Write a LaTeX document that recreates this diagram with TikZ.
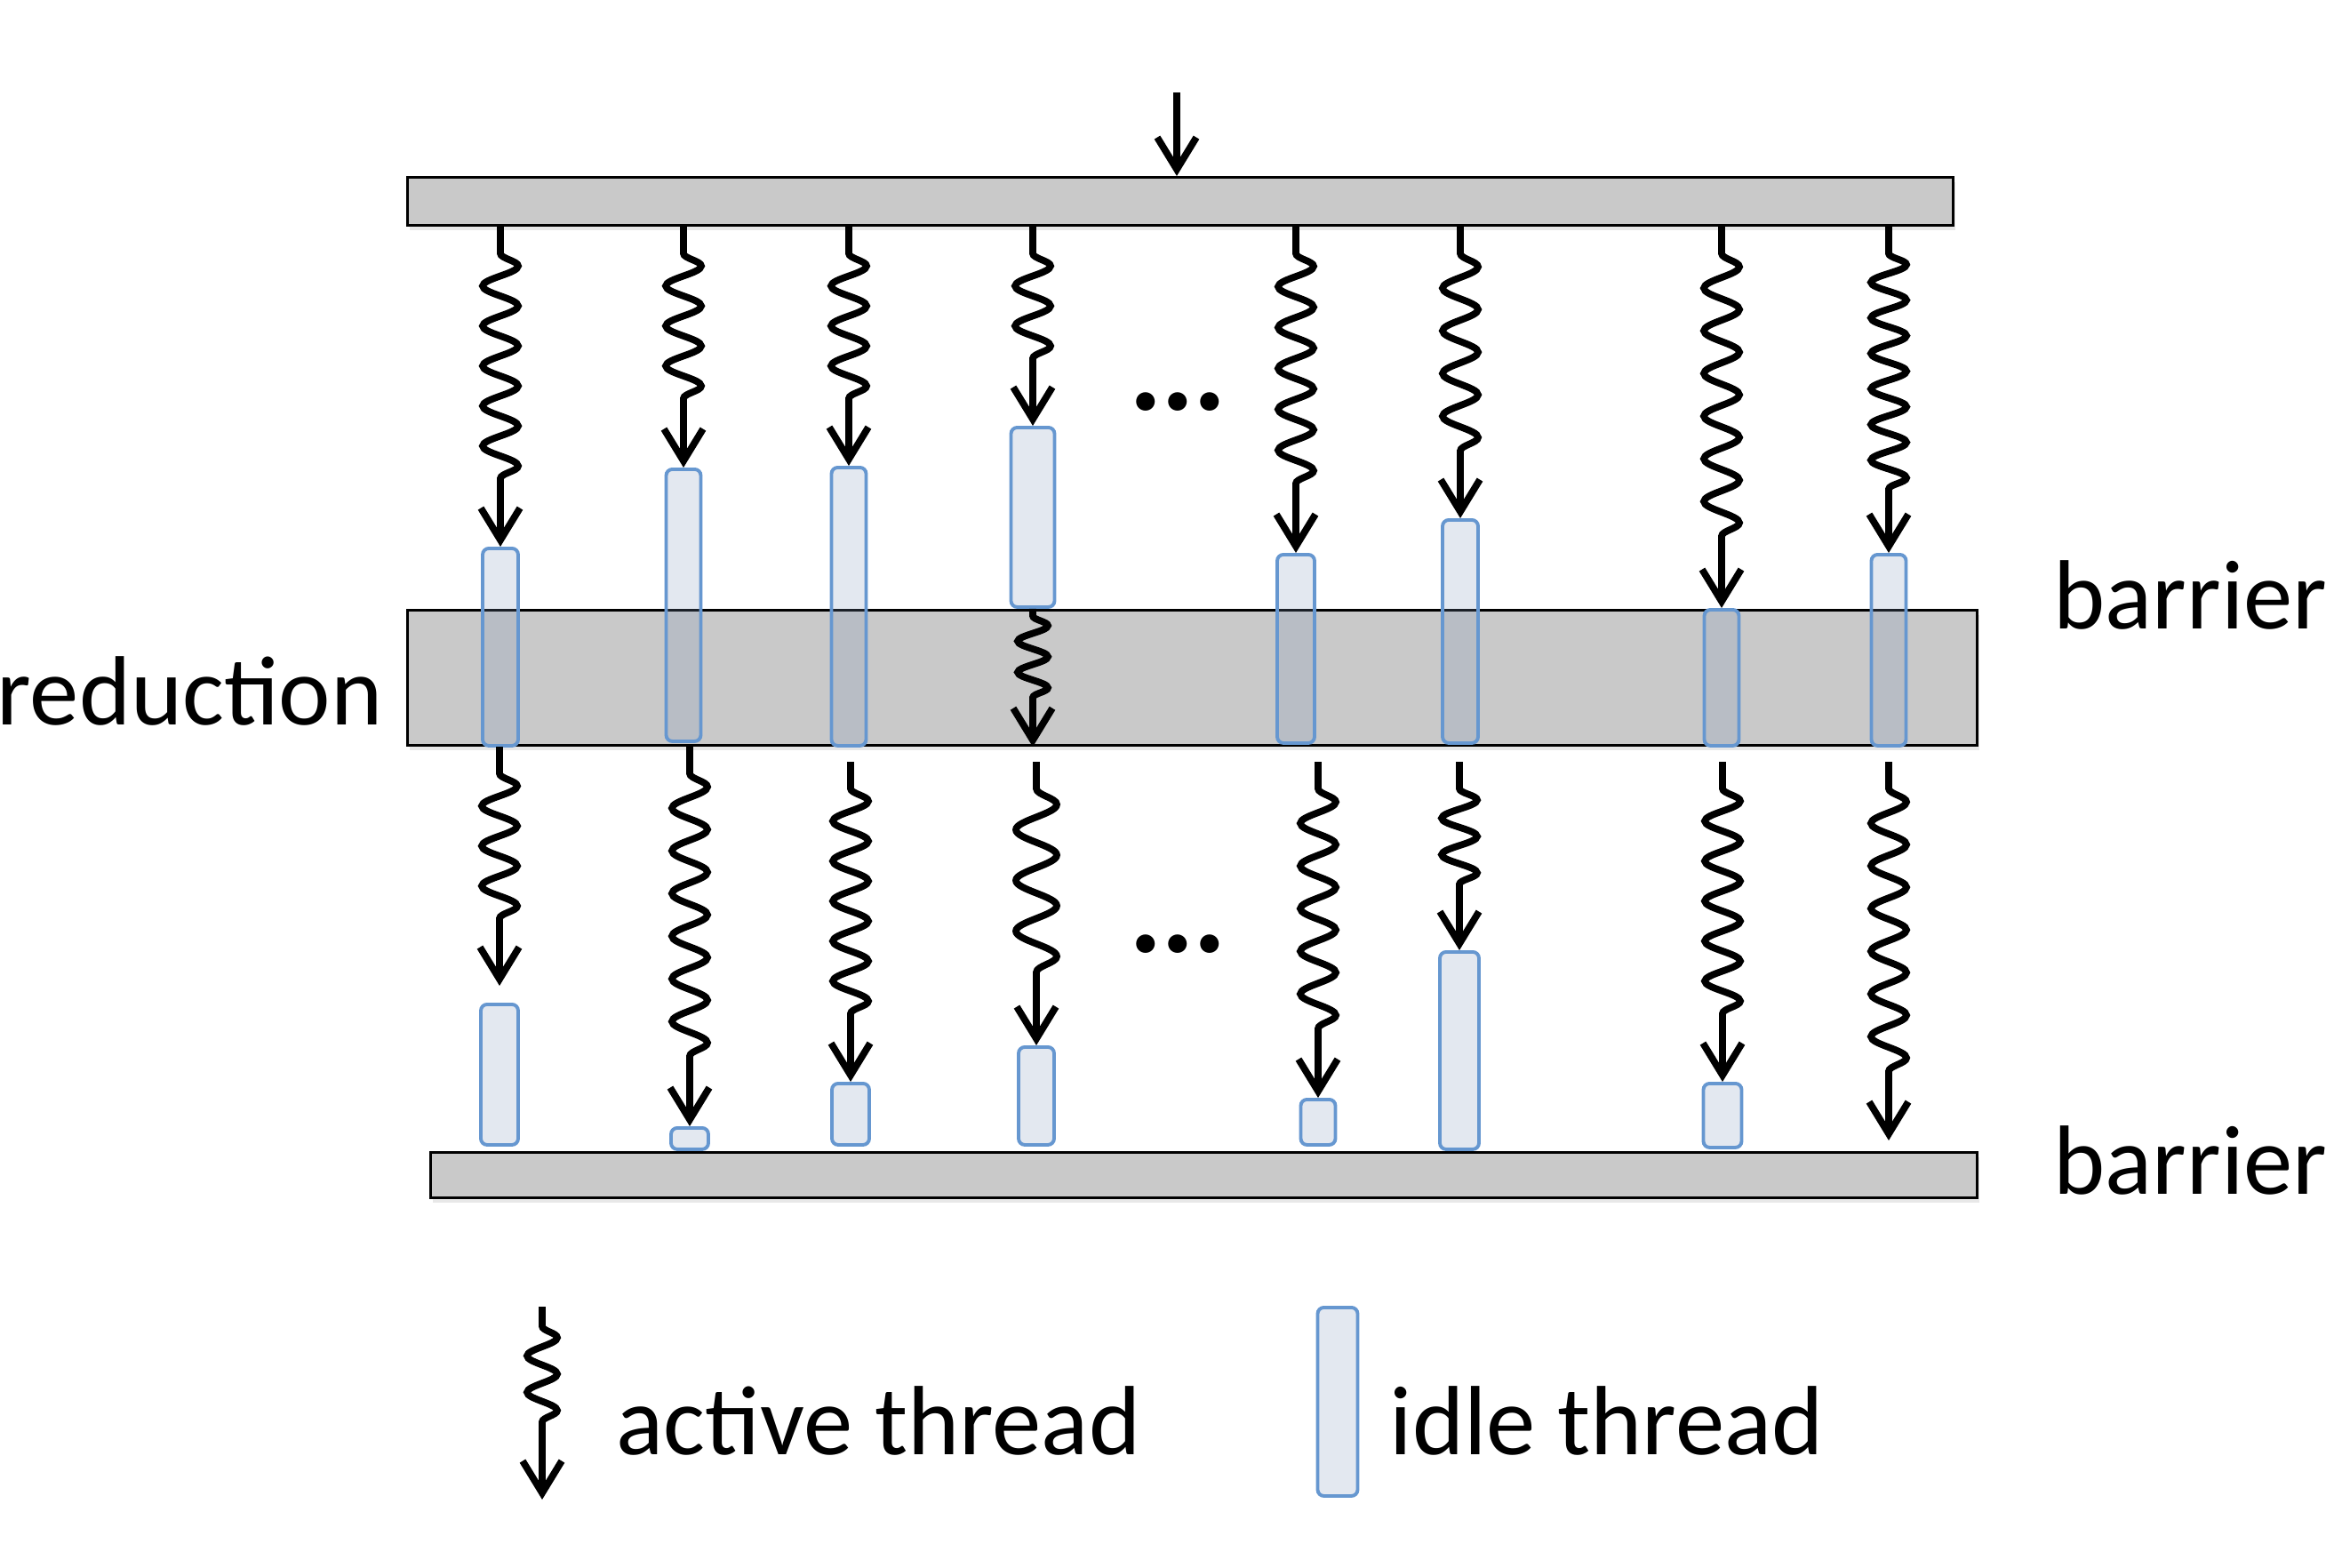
\documentclass[tikz,border=0pt]{standalone}
\usepackage{fontspec}
\setmainfont{Carlito}
\usetikzlibrary{arrows.meta, decorations.pathmorphing, shadows, calc}
\definecolor{barfill}{RGB}{201,201,201}
\definecolor{idleedge}{RGB}{102,151,208}
\definecolor{idlefill}{RGB}{127,150,186}

\tikzset{
  bar/.style={rectangle, draw=black, line width=0.9pt, fill=barfill, inner sep=0pt, anchor=north west,
    drop shadow={shadow xshift=0.02cm, shadow yshift=-0.05cm, opacity=0.18}},
  idle/.style={rectangle, rounded corners=0.07cm, draw=idleedge, line width=1.1pt, fill=idlefill,
    fill opacity=0.22, draw opacity=1, inner sep=0pt, anchor=north},
  thread/.style={line width=2.2pt, -{Straight Barb[length=0.36cm, width=0.44cm]}, decorate,
    decoration={snake, segment length=#1, amplitude=0.2cm, pre length=0.3cm, post length=0.6cm}},
  thread/.default=0.45cm,
  lbl/.style={font=\fontsize{31.5}{37}\selectfont, inner sep=0pt, anchor=base west},
  dots/.style={font=\fontsize{40}{46}\selectfont\bfseries, inner sep=0pt}
}

\begin{document}
\begin{tikzpicture}
\useasboundingbox (0,0) rectangle (26.35,-17.64);

% barriers and reduction phase
\node[bar, minimum width=17.39cm, minimum height=0.54cm] (top) at (4.57,-1.98) {};
\node[bar, minimum width=17.66cm, minimum height=1.52cm] (mid) at (4.57,-6.85) {};
\node[bar, minimum width=17.40cm, minimum height=0.51cm] (bot) at (4.83,-12.95) {};

\coordinate (src) at (13.24,-1.04);
\draw[line width=2.2pt, -{Straight Barb[length=0.36cm, width=0.44cm]}] (src) -- (top.north -| src);

% idle threads, first phase
\node[idle, minimum width=0.40cm, minimum height=2.22cm] (u1) at (5.63,-6.15) {};
\node[idle, minimum width=0.39cm, minimum height=3.06cm] (u2) at (7.69,-5.26) {};
\node[idle, minimum width=0.39cm, minimum height=3.13cm] (u3) at (9.55,-5.24) {};
\node[idle, minimum width=0.49cm, minimum height=2.02cm] (u4) at (11.62,-4.79) {};
\node[idle, minimum width=0.42cm, minimum height=2.12cm] (u5) at (14.58,-6.22) {};
\node[idle, minimum width=0.40cm, minimum height=2.51cm] (u6) at (16.43,-5.83) {};
\node[idle, minimum width=0.39cm, minimum height=1.53cm] (u7) at (19.37,-6.84) {};
\node[idle, minimum width=0.39cm, minimum height=2.15cm] (u8) at (21.25,-6.22) {};

% active threads, first phase
\draw[thread=0.45cm] (top.south -| u1.north) -- (u1.north);
\draw[thread=0.45cm] (top.south -| u2.north) -- (u2.north);
\draw[thread=0.45cm] (top.south -| u3.north) -- (u3.north);
\draw[thread=0.45cm] (top.south -| u4.north) -- (u4.north);
\draw[thread=0.46cm] (top.south -| u5.north) -- (u5.north);
\draw[thread=0.48cm] (top.south -| u6.north) -- (u6.north);
\draw[thread=0.48cm] (top.south -| u7.north) -- (u7.north);
\draw[thread=0.40cm] (top.south -| u8.north) -- (u8.north);
\draw[thread=0.35cm, decoration={amplitude=0.17cm, pre length=0.08cm, post length=0.4cm}]
  (u4.south) -- (mid.south -| u4.south);

\node[dots] (gapup) at (13.25,-4.52) {.\kern-0.4pt.\kern-0.4pt.};

% idle threads, second phase
\node[idle, minimum width=0.42cm, minimum height=1.58cm] (l1) at (5.62,-11.28) {};
\node[idle, minimum width=0.42cm, minimum height=0.24cm] (l2) at (7.76,-12.67) {};
\node[idle, minimum width=0.42cm, minimum height=0.69cm] (l3) at (9.57,-12.17) {};
\node[idle, minimum width=0.40cm, minimum height=1.10cm] (l4) at (11.66,-11.76) {};
\node[idle, minimum width=0.39cm, minimum height=0.51cm] (l5) at (14.83,-12.35) {};
\node[idle, minimum width=0.44cm, minimum height=2.22cm] (l6) at (16.42,-10.69) {};
\node[idle, minimum width=0.43cm, minimum height=0.72cm] (l7) at (19.38,-12.17) {};

% active threads, second phase
\draw[thread=0.45cm] (mid.south -| l1.north) -- ($(l1.north)+(0,0.19)$);
\draw[thread=0.48cm] (mid.south -| l2.north) -- (l2.north);
\draw[thread=0.45cm] ($(mid.south -| l3.north)+(0,-0.17)$) -- (l3.north);
\draw[thread=0.57cm, decoration={amplitude=0.23cm}] ($(mid.south -| l4.north)+(0,-0.17)$) -- (l4.north);
\draw[thread=0.48cm] ($(mid.south -| l5.north)+(0,-0.17)$) -- (l5.north);
\draw[thread=0.41cm] ($(mid.south -| l6.north)+(0,-0.17)$) -- (l6.north);
\draw[thread=0.45cm] ($(mid.south -| l7.north)+(0,-0.17)$) -- (l7.north);
\draw[thread=0.48cm] ($(mid.south -| u8.south)+(0,-0.17)$) -- ($(bot.north -| u8.south)+(0,0.12)$);

\node[dots] (gaplow) at (13.25,-10.62) {.\kern-0.4pt.\kern-0.4pt.};

% labels
\node[lbl] (barrierup) at (23.10,-7.07) {barrier};
\node[lbl] (barrierlow) at (23.10,-13.43) {barrier};
\node[lbl] (reduction) at (-0.04,-8.15) {reduction};

% legend
\coordinate (keytop) at (6.10,-14.70);
\coordinate (keyend) at (6.10,-16.87);
\draw[thread=0.41cm, decoration={amplitude=0.17cm, pre length=0.22cm, post length=0.7cm}] (keytop) -- (keyend);
\node[lbl] (activelbl) at (6.93,-16.36) {active thread};
\node[idle, minimum width=0.45cm, minimum height=2.12cm] (key) at (15.05,-14.69) {};
\node[lbl] (idlelbl) at (15.63,-16.36) {idle thread};
\end{tikzpicture}
\end{document}
